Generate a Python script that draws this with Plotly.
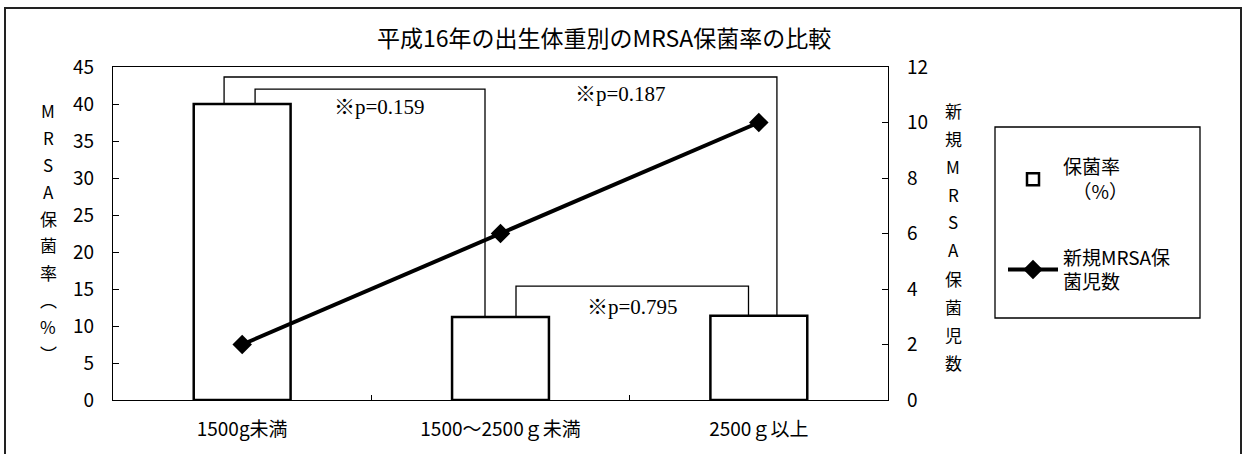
import plotly.graph_objects as go

# ---- data ----
categories = ["1500g未満", "1500～2500ｇ未満", "2500ｇ以上"]
carrier_rate = [40.0, 11.2, 11.4]          # 保菌率 (%) - left axis
new_carriers = [2, 6, 10]                  # 新規MRSA保菌児数 - right axis
title_text = "平成16年の出生体重別のMRSA保菌率の比較"
left_title = ["M", "R", "S", "A", "保", "菌", "率", "︵", "%", "︶"]
right_title = ["新", "規", "M", "R", "S", "A", "保", "菌", "児", "数"]
# significance brackets: (left index, right index, p label)
brackets = [(0, 2, "※p=0.187"), (0, 1, "※p=0.159"), (1, 2, "※p=0.795")]

W, H = 1246, 454
L, R, T, B = 113, 888, 67, 400
def px2x(px):
    return (px - L) / (R - L)
def py2y(py):
    return (B - py) / (B - T)

JP = "Noto Sans CJK JP"
fig = go.Figure()
fig.add_trace(go.Bar(
    x=categories, y=carrier_rate, name="保菌率<br>　（%）",
    marker=dict(color="white", line=dict(color="black", width=2.5)),
    width=0.375, legendgroup="a", yaxis="y",
))
fig.add_trace(go.Scatter(
    x=categories, y=new_carriers, name="新規MRSA保<br>菌児数",
    mode="lines+markers", line=dict(color="black", width=4),
    marker=dict(symbol="diamond", size=15, color="black"),
    legendgroup="b", yaxis="y2",
))

# brackets (category index coords, y in left-axis units)
specs = [
    # (x_left_offset, x_right_offset, top level, text x, text y)
    (-0.07, 0.07, 43.65, 1.465, 41.3),
    (0.05, -0.06, 42.0, 0.53, 39.6),
    (0.06, -0.04, 15.4, 1.51, 12.6),
]
for (i, j, lab), (dl, dr, top, tx, ty) in zip(brackets, specs):
    xl, xr = i + dl, j + dr
    fig.add_shape(type="path",
                  path=f"M {xl} {carrier_rate[i]} L {xl} {top} L {xr} {top} L {xr} {carrier_rate[j]}",
                  xref="x", yref="y", line=dict(color="black", width=1.3))
    fig.add_annotation(x=tx, y=ty, xref="x", yref="y", text=lab, showarrow=False,
                       xanchor="center", yanchor="middle",
                       font=dict(family="Liberation Serif, Noto Sans CJK JP", size=21, color="black"))

# vertical stacked axis titles
for k, ch in enumerate(left_title):
    fig.add_annotation(x=px2x(48), y=py2y(110 + k * 27), xref="paper", yref="paper",
                       xanchor="center", yanchor="middle", borderpad=0,
                       text=ch, showarrow=False, font=dict(family=JP, size=17, color="black"))
for k, ch in enumerate(right_title):
    fig.add_annotation(x=px2x(953), y=py2y(110 + k * 28), xref="paper", yref="paper",
                       xanchor="center", yanchor="middle", borderpad=0,
                       text=ch, showarrow=False, font=dict(family=JP, size=17, color="black"))

# title
fig.add_annotation(x=px2x(604), y=py2y(37), xref="paper", yref="paper", text=title_text,
                   xanchor="center", yanchor="middle",
                   showarrow=False, font=dict(family=JP, size=23, color="black"))

# outer chart frame
fig.add_shape(type="rect", xref="paper", yref="paper",
              x0=px2x(5), x1=px2x(1241), y0=py2y(8), y1=py2y(470),
              line=dict(color="#222", width=2), layer="below")
# legend frame
fig.add_shape(type="rect", xref="paper", yref="paper",
              x0=px2x(995), x1=px2x(1200), y0=py2y(127), y1=py2y(318),
              line=dict(color="black", width=1.3))

axfont = dict(family=JP, size=19, color="black")
fig.update_layout(
    width=W, height=H,
    margin=dict(l=L, r=W - R, t=T, b=H - B, pad=0),
    paper_bgcolor="white", plot_bgcolor="white",
    showlegend=True,
    legend=dict(x=px2x(1003), y=py2y(148), xanchor="left", yanchor="top",
                bgcolor="rgba(0,0,0,0)", borderwidth=0, tracegroupgap=38, itemwidth=50,
                font=dict(family=JP, size=19, color="black")),
    xaxis=dict(showline=True, linecolor="black", linewidth=1.3, mirror=True,
               ticks="inside", tickson="boundaries", ticklen=5, tickcolor="black",
               tickfont=axfont, ticklabelstandoff=12, showgrid=False, zeroline=False),
    yaxis=dict(range=[0, 45], dtick=5, showline=True, linecolor="black", linewidth=1.3,
               mirror=True, ticks="inside", ticklen=6, tickcolor="black",
               tickfont=axfont, ticklabelstandoff=14, showgrid=False, zeroline=False),
    yaxis2=dict(range=[0, 12], dtick=2, overlaying="y", side="right",
                showline=True, linecolor="black", linewidth=1.3,
                ticks="inside", ticklen=6, tickcolor="black",
                tickfont=axfont, ticklabelstandoff=14, showgrid=False, zeroline=False),
)

fig.write_html("out.html", config={"displayModeBar": False},
               post_script="document.body.style.margin='0px';")
